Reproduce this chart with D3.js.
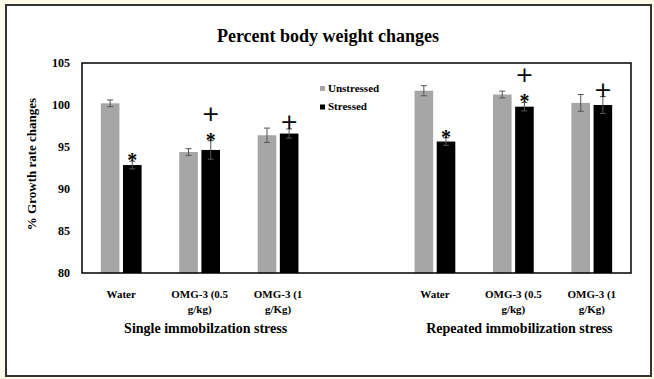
<!DOCTYPE html>
<html>
<head>
<meta charset="utf-8">
<script src="https://cdn.jsdelivr.net/npm/d3@7"></script>
<style>
  body { margin: 0; background: #fffbe8; }
  svg { display: block; font-family: "Liberation Serif", "Times New Roman", serif; }
</style>
</head>
<body>
<div id="chart"></div>
<script>
// slots on the x axis; the empty slot separates the two stress groups
const slots = ["s-water", "s-omg05", "s-omg1", "gap", "r-water", "r-omg05", "r-omg1"];
const catLabels = [["Water"], ["OMG-3  (0.5", "g/kg)"], ["OMG-3 (1", "g/Kg)"], [], ["Water"], ["OMG-3  (0.5", "g/kg)"], ["OMG-3 (1", "g/Kg)"]];
const groupLabels = ["Single immobilzation  stress", "Repeated immobilization  stress"];
const groupSlots = [["s-water", "s-omg1"], ["r-water", "r-omg1"]];
const seriesNames = ["Unstressed", "Stressed"];
const colors = ["#a6a6a6", "#000000"];
const unstressed = [100.2, 94.4, 96.4, null, 101.7, 101.25, 100.25];
const unstressedErr = [0.4, 0.4, 0.85, null, 0.6, 0.4, 1.0];
const stressed = [92.85, 94.65, 96.6, null, 95.65, 99.8, 100.0];
const stressedErr = [0.45, 1.1, 0.55, null, 0.45, 0.5, 1.0];
const stars = [true, true, false, false, true, true, false];
const pluses = [false, true, true, false, false, true, true];
const yTicks = [80, 85, 90, 95, 100, 105];

const width = 654, height = 379;
const margin = { left: 82, right: 23, top: 63, bottom: 106 };

const svg = d3.select("#chart").append("svg")
  .attr("width", width).attr("height", height);

// outer frame
svg.append("rect")
  .attr("x", 6).attr("y", 5).attr("width", 645).attr("height", 371)
  .attr("fill", "#ffffff").attr("stroke", "#333").attr("stroke-width", 2);

svg.append("text")
  .attr("x", 328).attr("y", 42)
  .attr("text-anchor", "middle")
  .attr("font-size", "18px").attr("font-weight", "bold")
  .text("Percent body weight changes");

const x = d3.scaleBand().domain(slots)
  .range([margin.left, width - margin.right]);
const y = d3.scaleLinear().domain([80, 105])
  .range([height - margin.bottom, margin.top]);

const inner = d3.scaleBand().domain(seriesNames)
  .range([0, x.bandwidth()]).paddingInner(0.16).paddingOuter(0.85);

const series = [
  { name: "Unstressed", values: unstressed, err: unstressedErr, color: colors[0] },
  { name: "Stressed", values: stressed, err: stressedErr, color: colors[1] }
];

series.forEach(s => {
  const g = svg.append("g");
  slots.forEach((slot, i) => {
    const v = s.values[i];
    if (v == null) return;
    const bx = x(slot) + inner(s.name);
    const cx = bx + inner.bandwidth() / 2;
    g.append("rect")
      .attr("x", bx).attr("y", y(v))
      .attr("width", inner.bandwidth()).attr("height", y(80) - y(v))
      .attr("fill", s.color);
    const e = s.err[i];
    g.append("line")
      .attr("x1", cx).attr("x2", cx)
      .attr("y1", y(v + e)).attr("y2", y(v - e))
      .attr("stroke", "#555").attr("stroke-width", 1);
    [v + e, v - e].forEach(ev => {
      g.append("line")
        .attr("x1", cx - 3).attr("x2", cx + 3)
        .attr("y1", y(ev)).attr("y2", y(ev))
        .attr("stroke", "#555").attr("stroke-width", 1);
    });
  });
});

// significance marks over the stressed bars
slots.forEach((slot, i) => {
  if (stressed[i] == null) return;
  const cx = x(slot) + inner("Stressed") + inner.bandwidth() / 2;
  const top = y(stressed[i] + stressedErr[i]);
  if (stars[i]) {
    svg.append("text")
      .attr("x", cx).attr("y", top + 6)
      .attr("text-anchor", "middle")
      .attr("font-size", "20px").attr("font-weight", "bold")
      .text("*");
  }
  if (pluses[i]) {
    svg.append("text")
      .attr("x", cx).attr("y", top - (stars[i] ? 20 : 0))
      .attr("text-anchor", "middle")
      .attr("font-size", "22px")
      .attr("font-family", "DejaVu Sans, sans-serif")
      .text("+");
  }
});

// plot frame
svg.append("rect")
  .attr("x", margin.left).attr("y", margin.top)
  .attr("width", width - margin.left - margin.right)
  .attr("height", height - margin.top - margin.bottom)
  .attr("fill", "none").attr("stroke", "#000").attr("stroke-width", 1.5);

// y axis
const yAxis = svg.append("g")
  .attr("transform", `translate(${margin.left},0)`)
  .call(d3.axisLeft(y).tickValues(yTicks).tickSize(0).tickPadding(12));
yAxis.select(".domain").remove();
yAxis.selectAll("text")
  .attr("font-family", "Liberation Serif, serif")
  .attr("font-size", "12px").attr("font-weight", "bold").attr("fill", "#000");

svg.append("text")
  .attr("transform", "translate(36,164) rotate(-90)")
  .attr("text-anchor", "middle")
  .attr("font-size", "13px").attr("font-weight", "bold")
  .text("% Growth rate changes");

// category labels
slots.forEach((slot, i) => {
  const t = svg.append("text")
    .attr("x", x(slot) + x.bandwidth() / 2)
    .attr("y", y(80) + 25)
    .attr("text-anchor", "middle")
    .attr("font-size", "11px").attr("font-weight", "bold");
  catLabels[i].forEach((line, j) => {
    t.append("tspan")
      .attr("x", x(slot) + x.bandwidth() / 2)
      .attr("dy", j === 0 ? 0 : 15)
      .text(line);
  });
});

groupLabels.forEach((label, i) => {
  const [a, b] = groupSlots[i];
  const cx = (x(a) + x(b) + x.bandwidth()) / 2;
  svg.append("text")
    .attr("x", cx + 6).attr("y", y(80) + 60)
    .attr("text-anchor", "middle")
    .attr("font-size", "14px").attr("font-weight", "bold")
    .text(label);
});

// legend
const legend = svg.append("g").attr("transform", "translate(320,86)");
seriesNames.forEach((name, i) => {
  legend.append("rect")
    .attr("x", 0).attr("y", i * 18.5)
    .attr("width", 5).attr("height", 5)
    .attr("fill", colors[i]);
  legend.append("text")
    .attr("x", 8).attr("y", i * 18.5 + 5.5)
    .attr("font-size", "11px").attr("font-weight", "bold")
    .text(name);
});
</script>
</body>
</html>
